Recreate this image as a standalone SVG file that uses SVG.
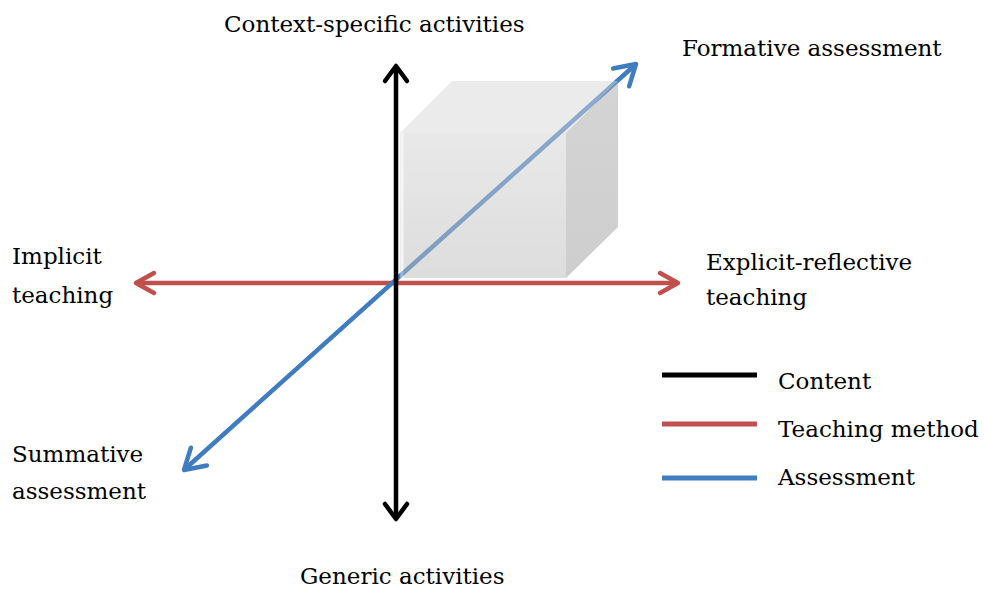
<svg xmlns="http://www.w3.org/2000/svg" width="984" height="590" viewBox="0 0 984 590">
  <defs>
    <linearGradient id="frontFill" x1="0" y1="0" x2="0" y2="1">
      <stop offset="0" stop-color="#d4d4d4"/>
      <stop offset="1" stop-color="#bcbcbc"/>
    </linearGradient>
    <linearGradient id="sideFill" x1="0" y1="0" x2="0" y2="1">
      <stop offset="0" stop-color="#ababab"/>
      <stop offset="1" stop-color="#9e9e9e"/>
    </linearGradient>
  </defs>
  <style>
    text { font-family: "DejaVu Serif", "Liberation Serif", serif; font-size: 23px; fill: #000; }
    .axis { fill: none; stroke-width: 4.5; stroke-linecap: round; stroke-linejoin: round; }
    .content { stroke: #000000; }
    .method { stroke: #c0504d; }
    .assess { stroke: #3f7cc0; }
    .legend { stroke-width: 5; }
  </style>

  <!-- axes -->
  <g id="connectors">
    <g id="teaching-axis">
      <line class="axis method" x1="137" y1="283" x2="677" y2="283"/>
      <polyline class="axis method" points="154,273 136,283 154,293"/>
      <polyline class="axis method" points="660,273 678,283 660,293"/>
    </g>
    <g id="assessment-axis">
      <line class="axis assess" x1="185" y1="469" x2="635" y2="65"/>
      <polyline class="axis assess" points="190.9,447.7 184,470 206.9,465.5"/>
      <polyline class="axis assess" points="613.1,68.5 636,64 629.1,86.3"/>
    </g>
  </g>

  <!-- translucent cube -->
  <g id="cube" opacity="0.5">
    <polygon points="400,133 452,81 618,81 566,133" fill="#d9d9d9"/>
    <polygon points="566,133 618,81 618,227 566,278" fill="url(#sideFill)"/>
    <rect x="400" y="133" width="166" height="145" fill="url(#frontFill)"/>
    <line x1="402" y1="133" x2="402" y2="278" stroke="#ececec" stroke-width="3"/>
  </g>

  <g id="content-axis">
    <line class="axis content" x1="396" y1="67" x2="396" y2="518"/>
    <polyline class="axis content" points="385,81 396,66 407,81"/>
    <polyline class="axis content" points="385,504 396,519 407,504"/>
  </g>

  <!-- axis labels -->
  <g id="label-context">
    <text x="224" y="32">Context-specific activities</text>
  </g>
  <g id="label-generic">
    <text x="300" y="584">Generic activities</text>
  </g>
  <g id="label-implicit">
    <text x="12" y="264">Implicit</text>
    <text x="12" y="303">teaching</text>
  </g>
  <g id="label-explicit">
    <text x="706" y="270">Explicit-reflective</text>
    <text x="706" y="305">teaching</text>
  </g>
  <g id="label-formative">
    <text x="682" y="56">Formative assessment</text>
  </g>
  <g id="label-summative">
    <text x="12" y="462">Summative</text>
    <text x="12" y="499">assessment</text>
  </g>

  <!-- legend -->
  <g id="legend">
    <line class="legend content" x1="662" y1="375" x2="757" y2="375"/>
    <text x="778" y="389">Content</text>
    <line class="legend method" x1="662" y1="424" x2="757" y2="424"/>
    <text x="778" y="437">Teaching method</text>
    <line class="legend assess" x1="662" y1="478" x2="757" y2="478"/>
    <text x="778" y="485">Assessment</text>
  </g>
</svg>
